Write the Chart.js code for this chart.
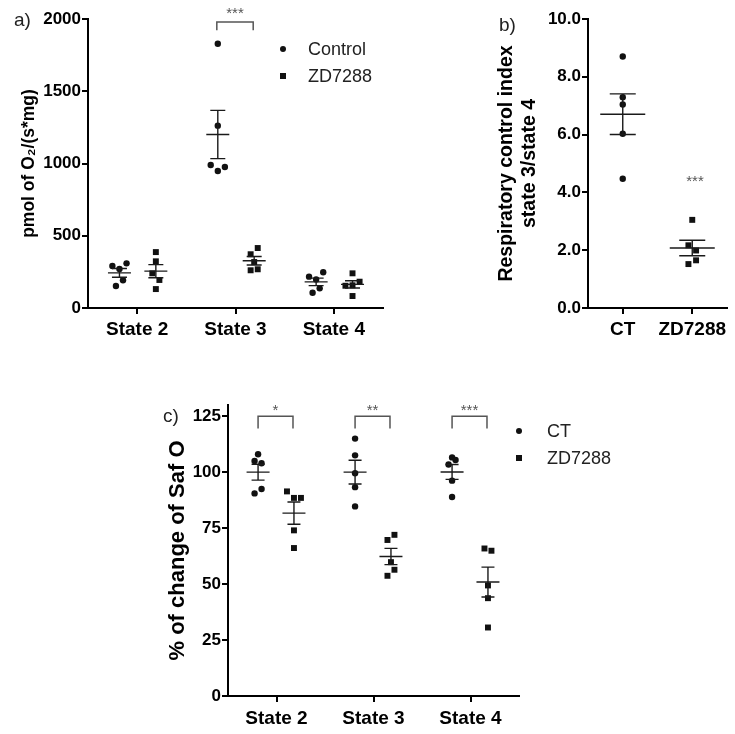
<!DOCTYPE html>
<html>
<head>
<meta charset="utf-8">
<script src="https://cdn.jsdelivr.net/npm/chart.js@4.4.0/dist/chart.umd.min.js"></script>
<style>
  body { margin: 0; background: #fff; }
  #page { position: relative; width: 735px; height: 734px; overflow: hidden;
          font-family: "Liberation Sans", Arial, sans-serif; color: #222; }
  canvas { position: absolute; }
  .tag { position: absolute; font-size: 19px; line-height: 19px; }
  .leg { position: absolute; font-size: 18px; line-height: 18px; }
  .dot, .sq { position: absolute; width: 6px; height: 6px; background: #111; }
  .dot { border-radius: 50%; }
</style>
</head>
<body>
<div id="page">
  <canvas id="chartA" width="400" height="345" style="left:0;top:0"></canvas>
  <canvas id="chartB" width="295" height="345" style="left:440px;top:0"></canvas>
  <canvas id="chartC" width="430" height="374" style="left:150px;top:360px"></canvas>

  <div class="tag" style="left:14px;top:10px">a)</div>
  <div class="tag" style="left:499px;top:15px">b)</div>
  <div class="tag" style="left:163px;top:406px">c)</div>

  <div class="dot" style="left:280px;top:46px"></div>
  <div class="leg" style="left:308px;top:40px">Control</div>
  <div class="sq" style="left:280px;top:73px"></div>
  <div class="leg" style="left:308px;top:67px">ZD7288</div>

  <div class="dot" style="left:516px;top:428px"></div>
  <div class="leg" style="left:547px;top:422px">CT</div>
  <div class="sq" style="left:516px;top:455px"></div>
  <div class="leg" style="left:547px;top:449px">ZD7288</div>
</div>
<script>
const FONT = '"Liberation Sans", Arial, sans-serif';

const stateLabels = ['State 2', 'State 3', 'State 4'];
const stateTicks = [1, 2, 3];

// a) oxygen consumption, pmol O2/(s*mg), one row per state
const o2Control = [
  [291, 270, 309, 192, 152],
  [1829, 1262, 990, 948, 976],
  [217, 198, 247, 136, 106],
];
const o2Zd = [
  [387, 323, 240, 194, 131],
  [415, 372, 318, 261, 268],
  [240, 154, 157, 182, 83],
];
// side-by-side lanes of the dots (GraphPad style scatter)
const o2ControlLanes = [[-2, 0, 2, 1, -1], [0, 0, -2, 0, 2], [-2, 0, 2, 1, -1]];
const o2ZdLanes = [[0, 0, -1, 1, 0], [1, -1, 0, -1, 1], [0, -2, 0, 2, 0]];

// b) respiratory control index (state 3 / state 4)
const rciLabels = ['CT', 'ZD7288'];
const rciTicks = [1, 2];
const rciControl = [8.70, 7.29, 7.04, 6.03, 4.47];
const rciZd = [3.05, 2.17, 1.99, 1.52, 1.65];
const rciControlLanes = [0, 0, 0, 0, 0];
const rciZdLanes = [0, -1, 1, -1, 1];

// c) % of change of Saf O
const safControl = [
  [108, 105, 104, 90.5, 92.5],
  [115, 107.5, 99.5, 93.3, 84.7],
  [106.6, 105.4, 103.4, 96.2, 88.9],
];
const safZd = [
  [91.4, 88.5, 88.5, 74.0, 66.1],
  [69.7, 72.0, 59.8, 56.4, 53.7],
  [65.9, 64.9, 49.4, 43.7, 30.6],
];
const safControlLanes = [[0, -1, 1, -1, 1], [0, 0, 0, 0, 0], [0, 1, -1, 0, 0]];
const safZdLanes = [[-2, 0, 2, 0, 0], [-1, 1, 0, 1, -1], [-1, 1, 0, 0, 0]];
const safStars = ['*', '**', '***'];

const mean = (arr) => arr.reduce((s, v) => s + v, 0) / arr.length;
const sem = (arr) => {
  const m = mean(arr);
  const variance = arr.reduce((s, v) => s + (v - m) ** 2, 0) / (arr.length - 1);
  return Math.sqrt(variance / arr.length);
};

// Turn value rows into scatter points placed around each category tick.
const toPoints = (rows, lanes, ticks, shift, step) => rows.flatMap((row, i) =>
  row.map((v, j) => ({ x: ticks[i] + shift + lanes[i][j] * step, y: v })));

// Mean line, SEM whiskers, significance brackets and stars.
const summaryPlugin = {
  id: 'dotSummary',
  afterDatasetsDraw(chart, args, opts) {
    const { ctx } = chart;
    const { x, y } = chart.scales;
    ctx.save();
    ctx.strokeStyle = '#1a1a1a';
    ctx.lineWidth = 1.4;
    (opts.groups || []).forEach((g) => {
      const cx = x.getPixelForValue(g.x);
      const m = mean(g.values);
      const e = sem(g.values);
      const ym = y.getPixelForValue(m);
      const yt = y.getPixelForValue(m + e);
      const yb = y.getPixelForValue(m - e);
      ctx.beginPath();
      ctx.moveTo(cx - opts.meanHalf, ym);
      ctx.lineTo(cx + opts.meanHalf, ym);
      ctx.moveTo(cx, yt);
      ctx.lineTo(cx, yb);
      ctx.moveTo(cx - opts.capHalf, yt);
      ctx.lineTo(cx + opts.capHalf, yt);
      ctx.moveTo(cx - opts.capHalf, yb);
      ctx.lineTo(cx + opts.capHalf, yb);
      ctx.stroke();
    });

    ctx.strokeStyle = '#555';
    ctx.fillStyle = '#555';
    ctx.lineWidth = 1.5;
    ctx.font = '15px ' + FONT;
    ctx.textAlign = 'center';
    ctx.textBaseline = 'middle';
    (opts.brackets || []).forEach((b) => {
      const x1 = x.getPixelForValue(b.x1);
      const x2 = x.getPixelForValue(b.x2);
      const top = y.getPixelForValue(b.top);
      const leg = y.getPixelForValue(b.leg);
      ctx.beginPath();
      ctx.moveTo(x1, leg);
      ctx.lineTo(x1, top);
      ctx.lineTo(x2, top);
      ctx.lineTo(x2, leg);
      ctx.stroke();
      ctx.fillText(b.text, (x1 + x2) / 2, y.getPixelForValue(b.textY));
    });
    (opts.marks || []).forEach((mk) => {
      ctx.fillText(mk.text, x.getPixelForValue(mk.x), y.getPixelForValue(mk.y));
    });
    ctx.restore();
  },
};

const pointSet = (data, style) => ({
  data,
  pointStyle: style,
  pointRadius: style === 'rect' ? 4.2 : 3.2,
  pointHoverRadius: 0,
  backgroundColor: '#111',
  borderWidth: 0,
});

const buildOptions = (cfg) => ({
  responsive: false,
  animation: false,
  layout: { padding: cfg.padding },
  plugins: {
    legend: { display: false },
    tooltip: { enabled: false },
    dotSummary: cfg.summary,
  },
  scales: {
    x: {
      type: 'linear',
      min: cfg.xMin,
      max: cfg.xMax,
      afterBuildTicks: (s) => { s.ticks = cfg.xTicks.map((v) => ({ value: v })); },
      afterFit: (s) => { s.height = cfg.xHeight; },
      ticks: {
        callback: (v) => cfg.xLabels[cfg.xTicks.indexOf(v)],
        color: '#000',
        font: { family: FONT, size: 19, weight: 'bold' },
        padding: cfg.xPad,
        maxRotation: 0,
        autoSkip: false,
      },
      grid: { drawOnChartArea: false, tickLength: 6, color: '#000', lineWidth: 2 },
      border: { color: '#000', width: 2 },
    },
    y: {
      min: cfg.yMin,
      max: cfg.yMax,
      afterBuildTicks: (s) => { s.ticks = cfg.yTicks.map((v) => ({ value: v })); },
      afterFit: (s) => { s.width = cfg.yWidth; },
      ticks: {
        callback: cfg.yFormat,
        color: '#000',
        font: { family: FONT, size: 17, weight: 'bold' },
        padding: 1,
      },
      grid: { drawOnChartArea: false, tickLength: 6, color: '#000', lineWidth: 2 },
      border: { color: '#000', width: 2 },
      title: {
        display: true,
        text: cfg.title,
        color: '#000',
        font: { family: FONT, size: cfg.titleSize, weight: 'bold' },
        padding: { top: cfg.titlePad, bottom: 0 },
      },
    },
  },
});

// a) oxygen consumption
const stepA = 0.036;
new Chart(document.getElementById('chartA'), {
  type: 'scatter',
  data: {
    datasets: [
      pointSet(toPoints(o2Control, o2ControlLanes, stateTicks, -0.18, stepA), 'circle'),
      pointSet(toPoints(o2Zd, o2ZdLanes, stateTicks, 0.19, stepA), 'rect'),
    ],
  },
  options: buildOptions({
    padding: { left: 0, top: 19, right: 17, bottom: 0 },
    xMin: 0.5, xMax: 3.5, xTicks: stateTicks, xLabels: stateLabels, xHeight: 37, xPad: 4,
    yMin: 0, yMax: 2000, yTicks: [0, 500, 1000, 1500, 2000], yFormat: (v) => String(v), yWidth: 88,
    title: 'pmol of O\u2082/(s*mg)', titleSize: 17.5, titlePad: 19,
    summary: {
      meanHalf: 11.5,
      capHalf: 7.5,
      groups: stateTicks.flatMap((t, i) => [
        { x: t - 0.18, values: o2Control[i] },
        { x: t + 0.19, values: o2Zd[i] },
      ]),
      brackets: [{ x1: 1.81, x2: 2.18, top: 1980, leg: 1922, text: '***', textY: 2035 }],
    },
  }),
  plugins: [summaryPlugin],
});

// b) respiratory control index
new Chart(document.getElementById('chartB'), {
  type: 'scatter',
  data: {
    datasets: [
      pointSet(rciControl.map((v, j) => ({ x: rciTicks[0] + rciControlLanes[j] * 0.055, y: v })), 'circle'),
      pointSet(rciZd.map((v, j) => ({ x: rciTicks[1] + rciZdLanes[j] * 0.055, y: v })), 'rect'),
    ],
  },
  options: buildOptions({
    padding: { left: 0, top: 19, right: 8, bottom: 0 },
    xMin: 0.5, xMax: 2.5, xTicks: rciTicks, xLabels: rciLabels, xHeight: 37, xPad: 4,
    yMin: 0, yMax: 10, yTicks: [0, 2, 4, 6, 8, 10], yFormat: (v) => v.toFixed(1), yWidth: 148,
    title: ['Respiratory control index', 'state 3/state 4'], titleSize: 19.5, titlePad: 55,
    summary: {
      meanHalf: 22.5,
      capHalf: 13,
      groups: [
        { x: rciTicks[0], values: rciControl },
        { x: rciTicks[1], values: rciZd },
      ],
      marks: [{ x: 2.04, y: 4.38, text: '***' }],
    },
  }),
  plugins: [summaryPlugin],
});

// c) Saf O change
const stepC = 0.036;
new Chart(document.getElementById('chartC'), {
  type: 'scatter',
  data: {
    datasets: [
      pointSet(toPoints(safControl, safControlLanes, stateTicks, -0.19, stepC), 'circle'),
      pointSet(toPoints(safZd, safZdLanes, stateTicks, 0.18, stepC), 'rect'),
    ],
  },
  options: buildOptions({
    padding: { left: 0, top: 45, right: 61, bottom: 0 },
    xMin: 0.5, xMax: 3.5, xTicks: stateTicks, xLabels: stateLabels, xHeight: 38, xPad: 5,
    yMin: 0, yMax: 130, yTicks: [0, 25, 50, 75, 100, 125], yFormat: (v) => String(v), yWidth: 78,
    title: '% of change of Saf O', titleSize: 22, titlePad: 15,
    summary: {
      meanHalf: 11.5,
      capHalf: 6.5,
      groups: stateTicks.flatMap((t, i) => [
        { x: t - 0.19, values: safControl[i] },
        { x: t + 0.18, values: safZd[i] },
      ]),
      brackets: stateTicks.map((t, i) => ({
        x1: t - 0.19, x2: t + 0.17, top: 125, leg: 119.5, text: safStars[i], textY: 127.6,
      })),
    },
  }),
  plugins: [summaryPlugin],
});
</script>
</body>
</html>
